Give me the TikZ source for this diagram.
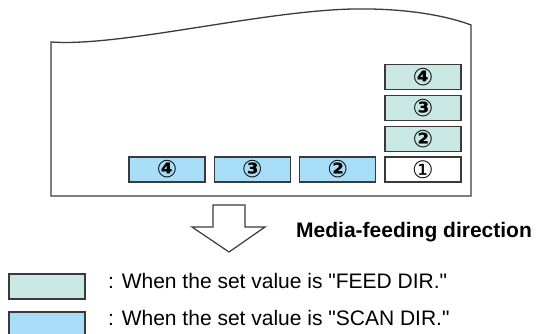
\documentclass[tikz,border=0pt]{standalone}
\usepackage{fontspec}
\setmainfont{Liberation Sans}
\newfontfamily\circfont{DejaVu Sans}[BoldFont=DejaVu Sans Bold]
\usetikzlibrary{positioning}
\definecolor{feedfill}{HTML}{C9E7E3}
\definecolor{scanfill}{HTML}{A8DDF8}
\definecolor{edgegray}{HTML}{3A3A3A}
\font\quotefont="Liberation Sans" at 21pt
\newcommand{\dq}{{\quotefont\char34}}
\tikzset{cell/.style={draw=edgegray,line width=1.3pt,minimum width=76pt,minimum height=25pt,inner sep=0pt,font=\circfont\fontsize{24}{24}\selectfont},feedcell/.style={cell,fill=feedfill},scancell/.style={cell,fill=scanfill},note/.style={anchor=base west,inner sep=0pt,font=\fontsize{21}{23}\selectfont}}

\begin{document}
\begin{tikzpicture}[x=1pt,y=-1pt]
\useasboundingbox (0,0) rectangle (538,334);
% sheet of media
\draw[edgegray,line width=1.3pt] (51,196)--(51,42) .. controls (120,47) and (260,11) .. (353,9) .. controls (410,8) and (450,17) .. (471,25)--(471,196)--cycle;
% first pass and the following ones
\node[cell,fill=white] (p1) at (423,169.5) {①};
\node[scancell,left=8pt of p1] (s2) {\bfseries ②};
\node[scancell,left=8pt of s2] (s3) {\bfseries ③};
\node[scancell,left=8pt of s3] (s4) {\bfseries ④};
\node[feedcell,above=4.5pt of p1] (f2) {\bfseries ②};
\node[feedcell,above=4.5pt of f2] (f3) {\bfseries ③};
\node[feedcell,above=4.5pt of f3] (f4) {\bfseries ④};
% feeding direction
\draw[edgegray,line width=1.2pt,line join=miter] (213,205)--(245,205)--(245,227)--(265,227)--(229,252)--(192,227)--(213,227)--cycle;
\node[note,font=\bfseries\fontsize{21}{23}\selectfont] (dir) at (296,237) {Media-feeding direction};
% legend
\node[feedcell] (kf) at (47,286.5) {};
\node[scancell] (ks) at (47,324.5) {};
\node[note] (tf) at (108,288) {: When the set value is \dq FEED DIR.\dq};
\node[note] (ts) at (108,325) {: When the set value is \dq SCAN DIR.\dq};
\end{tikzpicture}
\end{document}
